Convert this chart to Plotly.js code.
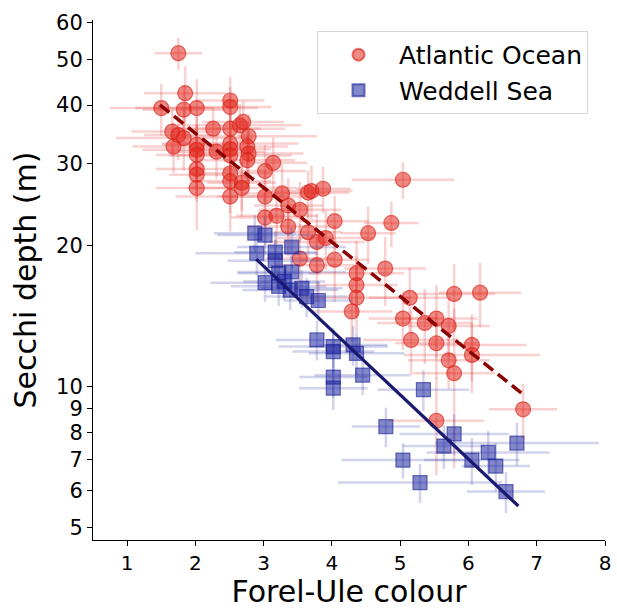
<!DOCTYPE html>
<html>
<head>
<meta charset="utf-8">
<script src="https://cdn.plot.ly/plotly-3.0.1.min.js"></script>
<style>html,body{margin:0;padding:0;background:#fff;}#chart{width:617px;height:609px;}</style>
</head>
<body>
<div id="chart"></div>
<script>
// Atlantic Ocean: Forel-Ule colour vs Secchi depth (m)
const atlX = [1.75,1.85,1.50,1.83,2.02,2.51,2.51,1.66,1.75,1.83,1.68,2.26,2.51,2.65,2.70,2.78,2.02,2.02,2.02,2.31,2.51,2.51,2.51,2.76,2.78,2.76,2.02,2.02,2.02,2.51,2.51,2.51,2.68,2.68,3.14,3.02,3.02,3.27,3.36,3.53,3.02,3.19,3.65,3.70,3.87,5.04,4.04,3.36,3.65,3.78,3.91,4.53,4.87,3.53,3.78,4.04,4.78,4.36,4.36,4.36,4.29,5.14,5.79,6.17,5.04,5.36,5.53,5.71,5.16,5.53,6.05,6.05,5.71,5.79,6.80,5.53];
const atlY = [51.6,42.4,39.4,39.1,39.4,40.9,39.6,35.1,34.5,34.0,32.6,35.6,35.6,36.2,36.8,34.3,32.9,32.1,31.3,31.8,33.1,32.2,31.2,32.6,31.5,30.5,29.2,28.4,26.6,28.6,27.5,25.5,27.3,26.6,30.1,28.9,25.5,25.9,24.4,23.9,23.0,23.2,26.0,26.2,26.5,27.7,22.6,22.0,21.4,20.4,20.8,21.3,22.4,18.8,18.2,18.7,17.9,17.5,16.5,15.5,14.5,15.5,15.8,15.9,14.0,13.7,14.0,13.5,12.6,12.4,12.3,11.7,11.4,10.7,8.96,8.47];
const atlXerr = [0.35,0.6,0.75,0.6,0.9,0.5,0.6,0.6,0.5,1.0,0.6,0.7,0.8,0.9,0.6,1.0,0.5,0.8,0.6,0.7,1.0,0.6,0.9,0.6,0.8,0.7,0.6,0.4,0.6,0.6,0.6,0.8,0.5,0.8,0.5,0.6,0.7,0.6,0.5,0.6,0.5,0.6,0.6,0.6,0.4,0.75,0.5,0.6,0.5,0.7,0.7,0.4,0.4,0.5,0.6,0.5,0.6,0.7,0.6,0.8,0.6,0.6,0.6,0.6,0.5,0.7,0.6,0.6,0.7,0.6,0.8,1.0,0.6,0.6,0.5,0.7];
const atlYerr = [4,6,5,5,6,5,4,4,4,5,4,4,5,4,4,4,5,4,5,4,5,4,4,4,4,4,4,3.5,5,4,4,4,3.5,3.5,4,4,3.5,4,3.5,3.5,3,3,3,3.5,3,2.5,3,3,3,3,3,3,2.5,3.5,3,3.5,3,3,2.5,2.5,2,2.5,2.5,2.5,2,2.5,2.5,2,2,2,2,2,1.5,4,1.2,2];

// Weddell Sea
const wedX = [2.87,3.02,2.90,3.17,3.41,3.17,3.22,3.41,3.02,3.22,3.39,3.56,3.63,3.80,3.30,3.78,4.02,4.02,4.31,4.36,4.02,4.02,4.45,5.34,4.79,5.79,5.64,6.71,6.29,6.05,6.40,5.04,5.29,6.55];
const wedY = [21.3,21.1,19.3,19.4,19.9,18.6,17.5,17.6,16.7,16.4,16.1,16.25,15.6,15.3,16.8,12.6,12.2,11.9,12.3,11.8,10.5,9.94,10.6,9.87,8.23,7.94,7.48,7.59,7.25,6.98,6.78,6.98,6.25,5.98];
const wedXerr = [0.6,0.7,0.9,0.6,0.8,0.7,0.6,0.8,0.8,0.7,0.7,0.6,0.6,0.5,0.6,0.6,0.8,0.6,0.5,0.7,0.5,0.5,0.7,0.67,0.5,0.8,0.6,1.2,0.9,0.7,0.5,0.9,1.2,0.57];
const wedYerr = [2,2,2,2,2,2,1.5,1.5,1.5,1.5,1.5,1.5,1.5,1.5,1.5,1.2,1.2,1.2,1.2,1.2,1,1,1,1,0.8,0.8,0.8,0.8,0.8,0.8,0.8,0.6,0.6,0.6];

// Fitted regression lines (end points)
const atlFitX = [1.48, 6.78];
const atlFitY = [40.0, 9.7];
const wedFitX = [2.89, 6.73];
const wedFitY = [18.75, 5.57];

const yTicks = [5,6,7,8,9,10,20,30,40,50,60];
const xTicks = [1,2,3,4,5,6,7,8];

const font = "DejaVu Sans, sans-serif";

const traces = [
  {
    x: atlX, y: atlY, type: 'scatter', mode: 'markers', name: 'Atlantic Ocean',
    marker: {symbol: 'circle', size: 15, color: 'rgba(226,40,30,0.55)', line: {color: 'rgba(215,30,20,0.6)', width: 1.2}},
    error_x: {type: 'data', array: atlXerr, visible: true, color: 'rgba(232,70,70,0.25)', thickness: 2.5, width: 0},
    error_y: {type: 'data', array: atlYerr, visible: true, color: 'rgba(232,70,70,0.25)', thickness: 2.5, width: 0}
  },
  {
    x: wedX, y: wedY, type: 'scatter', mode: 'markers', name: 'Weddell Sea',
    marker: {symbol: 'square', size: 14, color: 'rgba(30,38,160,0.55)', line: {color: 'rgba(25,30,150,0.6)', width: 1.2}},
    error_x: {type: 'data', array: wedXerr, visible: true, color: 'rgba(50,60,170,0.22)', thickness: 2.5, width: 0},
    error_y: {type: 'data', array: wedYerr, visible: true, color: 'rgba(50,60,170,0.22)', thickness: 2.5, width: 0}
  },
  {
    x: atlFitX, y: atlFitY, type: 'scatter', mode: 'lines', showlegend: false,
    line: {color: '#8b0000', width: 3.5, dash: '12px,6px'}
  },
  {
    x: wedFitX, y: wedFitY, type: 'scatter', mode: 'lines', showlegend: false,
    line: {color: '#191970', width: 3.2}
  }
];

const layout = {
  width: 617, height: 609,
  margin: {l: 93, r: 12, t: 20, b: 69},
  paper_bgcolor: '#fff', plot_bgcolor: '#fff',
  font: {family: font, color: '#000', size: 21},
  showlegend: true,
  legend: {
    x: 0.4375, y: 0.979, xanchor: 'left', yanchor: 'top',
    bgcolor: 'rgba(255,255,255,0.8)', bordercolor: '#d5d5d5', borderwidth: 1,
    font: {family: font, size: 25, color: '#000'},
    itemsizing: 'constant', itemwidth: 71, tracegroupgap: 6
  },
  xaxis: {
    range: [0.5, 8], tickvals: xTicks, ticktext: xTicks.map(String),
    showgrid: false, zeroline: false, showline: true, linecolor: '#000', linewidth: 1,
    ticks: 'outside', ticklen: 5, tickwidth: 1, tickcolor: '#000',
    tickfont: {family: font, size: 20},
    title: {text: 'Forel-Ule colour', font: {family: font, size: 30}, standoff: 10}
  },
  yaxis: {
    type: 'log', range: [Math.log10(4.713), Math.log10(60.75)],
    tickvals: yTicks, ticktext: yTicks.map(String),
    showgrid: false, zeroline: false, showline: true, linecolor: '#000', linewidth: 1,
    ticks: 'outside', ticklen: 5, tickwidth: 1, tickcolor: '#000',
    tickfont: {family: font, size: 21},
    title: {text: 'Secchi depth (m)', font: {family: font, size: 30}, standoff: 10}
  }
};

Plotly.newPlot('chart', traces, layout, {displayModeBar: false, staticPlot: true});
</script>
</body>
</html>
